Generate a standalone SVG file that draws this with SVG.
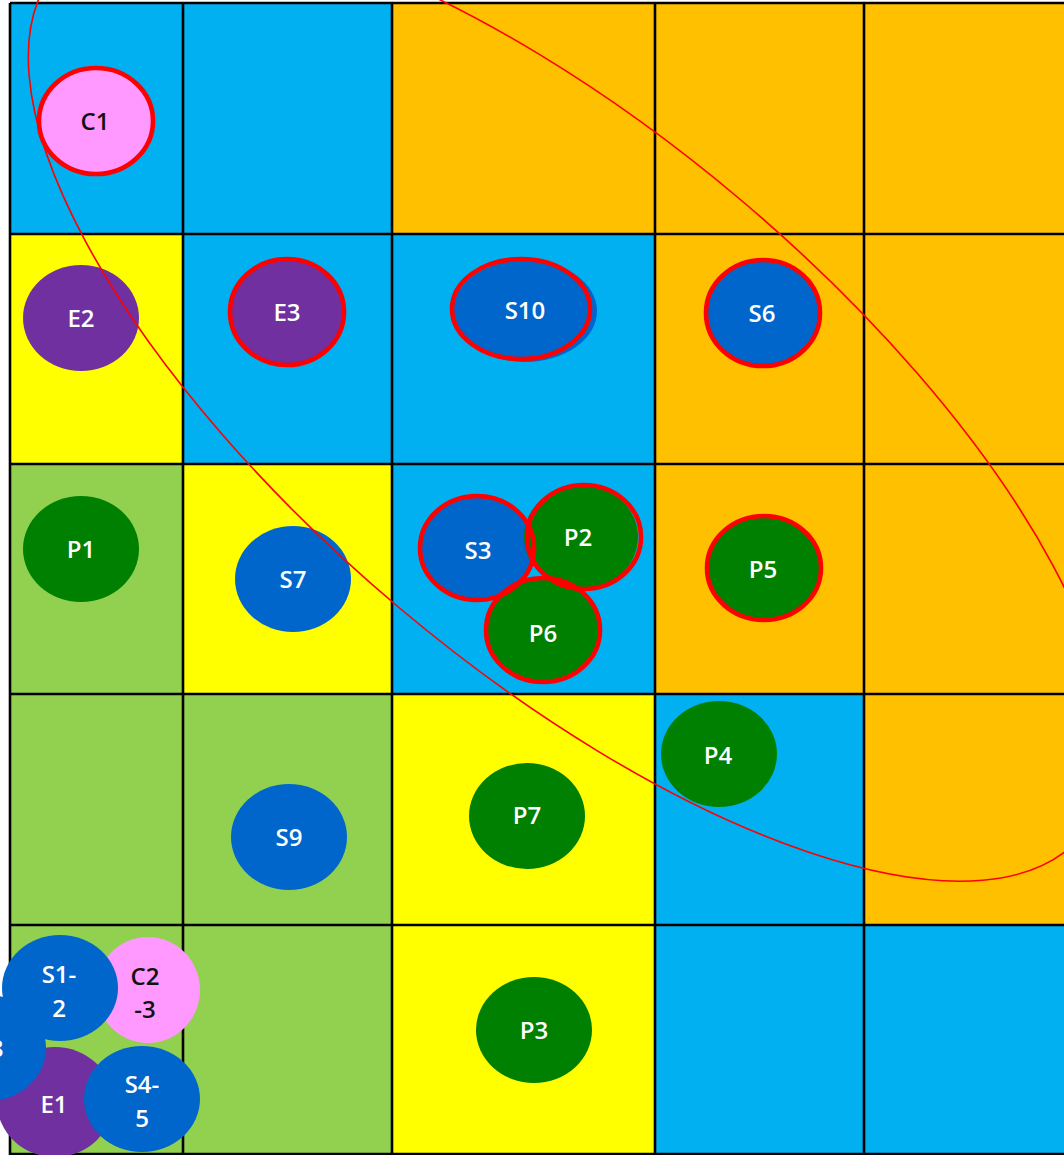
<svg xmlns="http://www.w3.org/2000/svg" width="1064" height="1155" viewBox="0 0 1064 1155">
<style>
.b{fill:#00B0F0}.o{fill:#FFC000}.y{fill:#FFFF00}.g{fill:#92D050}
.ln{stroke:#000;stroke-width:2.6;fill:none}
.nb{fill:#0066CC}.ng{fill:#008000}.np{fill:#7030A0}.nk{fill:#FF99FF}
.ring{fill:none;stroke:#FF0000;stroke-width:4.6}
text{font-family:"Open Sans","Noto Sans","Liberation Sans",sans-serif;font-size:24px;font-weight:600;text-anchor:middle;fill:#fff}
text.dk{fill:#111}
.hl{fill:none;stroke:#FF0000;stroke-width:1.6}
</style>
<rect width="1064" height="1155" fill="#fff"/>
<g id="grid">
<rect class="b" x="10" y="3" width="173" height="231"/>
<rect class="b" x="183" y="3" width="209" height="231"/>
<rect class="o" x="392" y="3" width="263" height="231"/>
<rect class="o" x="655" y="3" width="209" height="231"/>
<rect class="o" x="864" y="3" width="200" height="231"/>
<rect class="y" x="10" y="234" width="173" height="230"/>
<rect class="b" x="183" y="234" width="209" height="230"/>
<rect class="b" x="392" y="234" width="263" height="230"/>
<rect class="o" x="655" y="234" width="209" height="230"/>
<rect class="o" x="864" y="234" width="200" height="230"/>
<rect class="g" x="10" y="464" width="173" height="230"/>
<rect class="y" x="183" y="464" width="209" height="230"/>
<rect class="b" x="392" y="464" width="263" height="230"/>
<rect class="o" x="655" y="464" width="209" height="230"/>
<rect class="o" x="864" y="464" width="200" height="230"/>
<rect class="g" x="10" y="694" width="173" height="231"/>
<rect class="g" x="183" y="694" width="209" height="231"/>
<rect class="y" x="392" y="694" width="263" height="231"/>
<rect class="b" x="655" y="694" width="209" height="231"/>
<rect class="o" x="864" y="694" width="200" height="231"/>
<rect class="g" x="10" y="925" width="173" height="230"/>
<rect class="g" x="183" y="925" width="209" height="230"/>
<rect class="y" x="392" y="925" width="263" height="230"/>
<rect class="b" x="655" y="925" width="209" height="230"/>
<rect class="b" x="864" y="925" width="200" height="230"/>
<path class="ln" d="M10 3H1064M10 234H1064M10 464H1064M10 694H1064M10 925H1064M10 1154H1064M10 3V1155M183 3V1155M392 3V1155M655 3V1155M864 3V1155"/>
</g>
<g id="connectors"/>
<g id="C1"><ellipse class="nk" cx="96" cy="121" rx="57" ry="53"/><text class="dk" x="95" y="130">C1</text></g>
<g id="E2"><ellipse class="np" cx="81" cy="318" rx="58" ry="53"/><text x="81" y="327">E2</text></g>
<g id="E3"><ellipse class="np" cx="287" cy="312" rx="57" ry="53"/><text x="287" y="321">E3</text></g>
<g id="S10"><ellipse class="nb" cx="525" cy="311" rx="72" ry="51"/><text x="525" y="319">S10</text></g>
<g id="S6"><ellipse class="nb" cx="763" cy="313" rx="57" ry="53"/><text x="762" y="322">S6</text></g>
<g id="P1"><ellipse class="ng" cx="81" cy="549" rx="58" ry="53"/><text x="81" y="558">P1</text></g>
<g id="S7"><ellipse class="nb" cx="293" cy="579" rx="58" ry="53"/><text x="293" y="588">S7</text></g>
<g id="S3"><ellipse class="nb" cx="477" cy="548" rx="57" ry="52"/><text x="478" y="559">S3</text></g>
<g id="P2"><ellipse class="ng" cx="581" cy="537" rx="57" ry="52"/><text x="578" y="546">P2</text></g>
<g id="P6"><ellipse class="ng" cx="543" cy="630" rx="57" ry="52"/><text x="543" y="642">P6</text></g>
<g id="P5"><ellipse class="ng" cx="764" cy="568" rx="57" ry="52"/><text x="763" y="578">P5</text></g>
<g id="P4"><ellipse class="ng" cx="719" cy="754" rx="58" ry="53"/><text x="718" y="764">P4</text></g>
<g id="S9"><ellipse class="nb" cx="289" cy="837" rx="58" ry="53"/><text x="289" y="846">S9</text></g>
<g id="P7"><ellipse class="ng" cx="527" cy="816" rx="58" ry="53"/><text x="527" y="824">P7</text></g>
<g id="P3"><ellipse class="ng" cx="534" cy="1030" rx="58" ry="53"/><text x="534" y="1039">P3</text></g>
<g id="C2-3"><ellipse class="nk" cx="148" cy="990" rx="52" ry="53"/><text class="dk" x="145" y="985">C2</text><text class="dk" x="145" y="1018">-3</text></g>
<g id="E1"><ellipse class="np" cx="55" cy="1102" rx="58" ry="55"/><text x="54" y="1113">E1</text></g>
<g id="S8"><ellipse class="nb" cx="-12" cy="1048" rx="58" ry="53"/><text x="-10" y="1057">S8</text></g>
<g id="S1-2"><ellipse class="nb" cx="60" cy="988" rx="58" ry="53"/><text x="59" y="983">S1-</text><text x="59" y="1017">2</text></g>
<g id="S4-5"><ellipse class="nb" cx="142" cy="1099" rx="58" ry="53"/><text x="142" y="1093">S4-</text><text x="142" y="1127">5</text></g>
<g id="rings">
<ellipse class="ring" cx="96" cy="121" rx="57" ry="53"/>
<ellipse class="ring" cx="287" cy="312" rx="57" ry="53"/>
<ellipse class="ring" cx="521" cy="309" rx="69" ry="50"/>
<ellipse class="ring" cx="763" cy="313" rx="57" ry="53"/>
<ellipse class="ring" cx="477" cy="548" rx="57" ry="52"/>
<ellipse class="ring" cx="584" cy="537" rx="57" ry="52"/>
<ellipse class="ring" cx="543" cy="630" rx="57" ry="52"/>
<ellipse class="ring" cx="764" cy="568" rx="57" ry="52"/>
</g>
<g id="highlight">
<ellipse class="hl" cx="569" cy="403" rx="671" ry="266" transform="rotate(40.17 569 403)"/>
</g>
</svg>
